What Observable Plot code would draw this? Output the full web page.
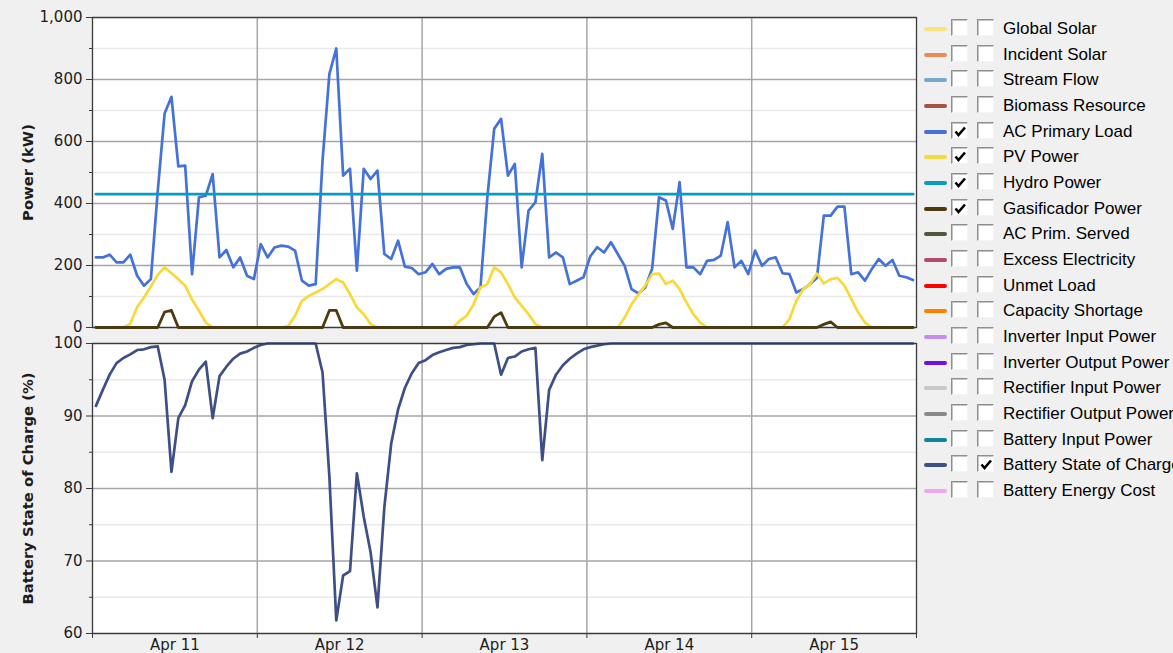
<!DOCTYPE html>
<html><head><meta charset="utf-8">
<script src="https://cdn.jsdelivr.net/npm/d3@7"></script>
<script src="https://cdn.jsdelivr.net/npm/@observablehq/plot@0.6"></script>
<style>
html,body{margin:0;padding:0;background:#f0f0f0;width:1173px;height:653px;overflow:hidden;font-family:"Liberation Sans",Arial,sans-serif;}
#topPanel{position:absolute;left:0;top:0;}
#bottomPanel{position:absolute;left:0;top:330px;}
#legend{position:absolute;left:0;top:0;width:1173px;height:653px;pointer-events:none;}
.row{position:absolute;left:0;width:1173px;height:26px;}
.sw{position:absolute;left:924px;top:11px;width:23px;height:4px;border-radius:2px;}
.cb{position:absolute;top:3px;width:17px;height:17px;background:#fff;box-sizing:border-box;border:1px solid;border-color:#8e8e8e #f4f4f4 #f4f4f4 #8e8e8e;box-shadow:inset 1px 1px 0 #c4c4c4;}
.cb svg{position:absolute;left:1px;top:1px;}
.lbl{position:absolute;left:1003px;top:3px;font-size:17px;line-height:20px;color:#000;white-space:nowrap;}
</style></head><body>
<div id="topPanel"></div><div id="bottomPanel"></div><div id="legend"></div>
<script>
// ---- data (hourly, Apr 11 00:00 .. Apr 15 23:00) ----
const dayLabels = ["Apr 11","Apr 12","Apr 13","Apr 14","Apr 15"];

const acPrimaryLoad = [
  226,226,235,210,210,235,167,135,156,440,690,744,520,522,172,420,425,495,226,250,194,226,167,156,
  269,226,258,264,261,248,151,135,140,538,818,900,490,512,183,512,479,506,237,221,280,196,192,172,
  178,205,172,189,194,194,140,108,129,420,641,673,490,528,194,377,404,560,226,242,226,140,151,162,
  230,259,242,275,237,199,124,110,129,190,420,410,318,469,194,194,172,215,218,232,340,194,215,172,
  248,199,221,226,175,172,113,124,140,160,361,361,390,390,172,178,151,189,221,199,218,167,162,153
];
const pvPower = [
  0,0,0,0,0,12,65,97,132,170,194,175,156,135,90,54,16,0,0,0,0,0,0,0,
  0,0,0,0,5,38,86,102,113,124,140,156,145,108,65,43,11,0,0,0,0,0,0,0,
  0,0,0,0,0,22,38,75,129,140,194,178,140,97,70,43,11,0,0,0,0,0,0,0,
  0,0,0,0,0,32,75,106,135,172,174,140,151,124,81,43,16,0,0,0,0,0,0,0,
  0,0,0,0,0,27,86,124,140,174,142,156,160,135,92,49,16,0,0,0,0,0,0,0
];
const hydroPower = [
  430,430,430,430,430,430,430,430,430,430,430,430,430,430,430,430,430,430,430,430,430,430,430,430,
  430,430,430,430,430,430,430,430,430,430,430,430,430,430,430,430,430,430,430,430,430,430,430,430,
  430,430,430,430,430,430,430,430,430,430,430,430,430,430,430,430,430,430,430,430,430,430,430,430,
  430,430,430,430,430,430,430,430,430,430,430,430,430,430,430,430,430,430,430,430,430,430,430,430,
  430,430,430,430,430,430,430,430,430,430,430,430,430,430,430,430,430,430,430,430,430,430,430,430
];
const gasificadorPower = [
  0,0,0,0,0,0,0,0,0,0,50,55,0,0,0,0,0,0,0,0,0,0,0,0,
  0,0,0,0,0,0,0,0,0,0,55,55,0,0,0,0,0,0,0,0,0,0,0,0,
  0,0,0,0,0,0,0,0,0,0,35,48,0,0,0,0,0,0,0,0,0,0,0,0,
  0,0,0,0,0,0,0,0,0,0,10,15,0,0,0,0,0,0,0,0,0,0,0,0,
  0,0,0,0,0,0,0,0,0,0,10,18,0,0,0,0,0,0,0,0,0,0,0,0
];
const batterySOC = [
  91.4,93.6,95.7,97.3,98.0,98.5,99.1,99.2,99.5,99.6,95.0,82.3,89.7,91.5,94.8,96.4,97.5,89.7,95.5,96.8,97.9,98.6,98.9,99.4,
  99.8,100,100,100,100,100,100,100,100,96.0,81.6,61.8,68.0,68.6,82.1,76.1,71.2,63.6,77.4,86.2,90.9,93.9,95.9,97.3,
  97.7,98.4,98.8,99.1,99.4,99.5,99.8,99.9,100,100,100,95.7,98.0,98.2,98.9,99.2,99.4,83.9,93.6,95.7,97.0,97.9,98.6,99.2,
  99.5,99.7,99.9,100,100,100,100,100,100,100,100,100,100,100,100,100,100,100,100,100,100,100,100,100,
  100,100,100,100,100,100,100,100,100,100,100,100,100,100,100,100,100,100,100,100,100,100,100,100
];

const powerTicks = [0,200,400,600,800,1000];
const powerMinorTicks = [100,300,500,700,900];
const socTicks = [60,70,80,90,100];
const socMinorTicks = [65,75,85,95];
const dayBoundaries = [0,24,48,72,96,120];
const dayCenters = [12,36,60,84,108];

const legendNames = ["Global Solar","Incident Solar","Stream Flow","Biomass Resource","AC Primary Load","PV Power","Hydro Power","Gasificador Power","AC Prim. Served","Excess Electricity","Unmet Load","Capacity Shortage","Inverter Input Power","Inverter Output Power","Rectifier Input Power","Rectifier Output Power","Battery Input Power","Battery State of Charge","Battery Energy Cost"];
const legendColors = ["#ffe07a","#f08858","#7aa6d0","#a65440","#4472d8","#f8d93a","#0a9cc0","#4d3b0e","#55553a","#b24a72","#ff0000","#ff8000","#c48cf2","#7410dc","#c8c8c8","#8a8a8a","#10829c","#3d4f85","#f0a6ea"];
const checkedLeft  = [0,0,0,0,1,1,1,1,0,0,0,0,0,0,0,0,0,0,0];
const checkedRight = [0,0,0,0,0,0,0,0,0,0,0,0,0,0,0,0,0,1,0];

// ---- table ----
const rows = acPrimaryLoad.map((v, i) => ({
  t: i + 0.5, load: v, pv: pvPower[i], hydro: hydroPower[i], gas: gasificadorPower[i], soc: batterySOC[i]
}));

const MAJOR = "#a6a6a6", MINOR = "#e9e9e9", FRAME = "#3a3a3a", INK = "#1c1c1c";
const baseStyle = {background:"transparent", fontFamily:"'DejaVu Sans', Verdana, sans-serif", fontSize:"15px", color: INK, overflow:"visible"};
const titleOpts = {frameAnchor: "left", textAnchor: "middle", rotate: -90, dx: -64, fontWeight: "bold", fontSize: 14.8, fill: INK};

const topChart = Plot.plot({
  width: 930, height: 335,
  marginLeft: 92, marginRight: 14, marginTop: 17, marginBottom: 8,
  style: baseStyle,
  x: {domain: [0, 120], axis: null, label: null},
  y: {domain: [0, 1000], label: null},
  marks: [
    Plot.frame({fill: "white", stroke: "none"}),
    Plot.gridY(powerMinorTicks, {stroke: MINOR, strokeOpacity: 1, strokeWidth: 1.5}),
    Plot.gridY(powerTicks, {stroke: MAJOR, strokeOpacity: 1, strokeWidth: 1.5}),
    Plot.gridX(dayBoundaries.slice(1, -1), {stroke: MAJOR, strokeOpacity: 1, strokeWidth: 1.5}),
    Plot.axisY(powerTicks, {tickSize: 6, tickPadding: 4, tickFormat: d3.format(","), label: null, stroke: FRAME}),
    Plot.axisY(powerMinorTicks, {tickSize: 3, tickFormat: () => "", label: null, stroke: FRAME}),
    Plot.line(rows, {x: "t", y: "load", stroke: "#4472d8", strokeWidth: 2.7}),
    Plot.line(rows, {x: "t", y: "pv", stroke: "#f8d93a", strokeWidth: 2.7}),
    Plot.line(rows, {x: "t", y: "hydro", stroke: "#0a9cc0", strokeWidth: 2.8}),
    Plot.line(rows, {x: "t", y: "gas", stroke: "#4d3b0e", strokeWidth: 2.8}),
    Plot.frame({stroke: FRAME, strokeWidth: 1.3}),
    Plot.text(["Power (kW)"], titleOpts)
  ]
});
document.getElementById("topPanel").append(topChart);

const bottomChart = Plot.plot({
  width: 930, height: 323,
  marginLeft: 92, marginRight: 14, marginTop: 13, marginBottom: 20,
  style: baseStyle,
  x: {domain: [0, 120], label: null},
  y: {domain: [60, 100], label: null},
  marks: [
    Plot.frame({fill: "white", stroke: "none"}),
    Plot.gridY(socMinorTicks, {stroke: MINOR, strokeOpacity: 1, strokeWidth: 1.5}),
    Plot.gridY(socTicks, {stroke: MAJOR, strokeOpacity: 1, strokeWidth: 1.5}),
    Plot.gridX(dayBoundaries.slice(1, -1), {stroke: MAJOR, strokeOpacity: 1, strokeWidth: 1.5}),
    Plot.axisY(socTicks, {tickSize: 6, tickPadding: 4, label: null, stroke: FRAME}),
    Plot.axisY(socMinorTicks, {tickSize: 3, tickFormat: () => "", label: null, stroke: FRAME}),
    Plot.axisX(dayBoundaries, {tickSize: 5, tickFormat: () => "", label: null, stroke: FRAME}),
    Plot.axisX(dayCenters, {tickSize: 0, tickPadding: 6, tickFormat: d => dayLabels[(d - 12) / 24], label: null}),
    Plot.line(rows, {x: "t", y: "soc", stroke: "#3d4f85", strokeWidth: 2.7}),
    Plot.frame({stroke: FRAME, strokeWidth: 1.3}),
    Plot.text(["Battery State of Charge (%)"], titleOpts)
  ]
});
document.getElementById("bottomPanel").append(bottomChart);

// ---- legend ----
const legend = document.getElementById("legend");
const check = '<svg width="15" height="15" viewBox="0 0 15 15"><polyline points="2.5,7.5 5.5,11 12,3.5" fill="none" stroke="#000" stroke-width="2.6"/></svg>';
legendNames.forEach((name, i) => {
  const row = document.createElement("div");
  row.className = "row";
  row.style.top = (16 + i * 25.67) + "px";
  row.innerHTML =
    `<div class="sw" style="background:${legendColors[i]}"></div>` +
    `<div class="cb" style="left:951px">${checkedLeft[i] ? check : ""}</div>` +
    `<div class="cb" style="left:977px">${checkedRight[i] ? check : ""}</div>` +
    `<div class="lbl"></div>`;
  row.querySelector(".lbl").textContent = name;
  legend.append(row);
});
</script></body></html>
